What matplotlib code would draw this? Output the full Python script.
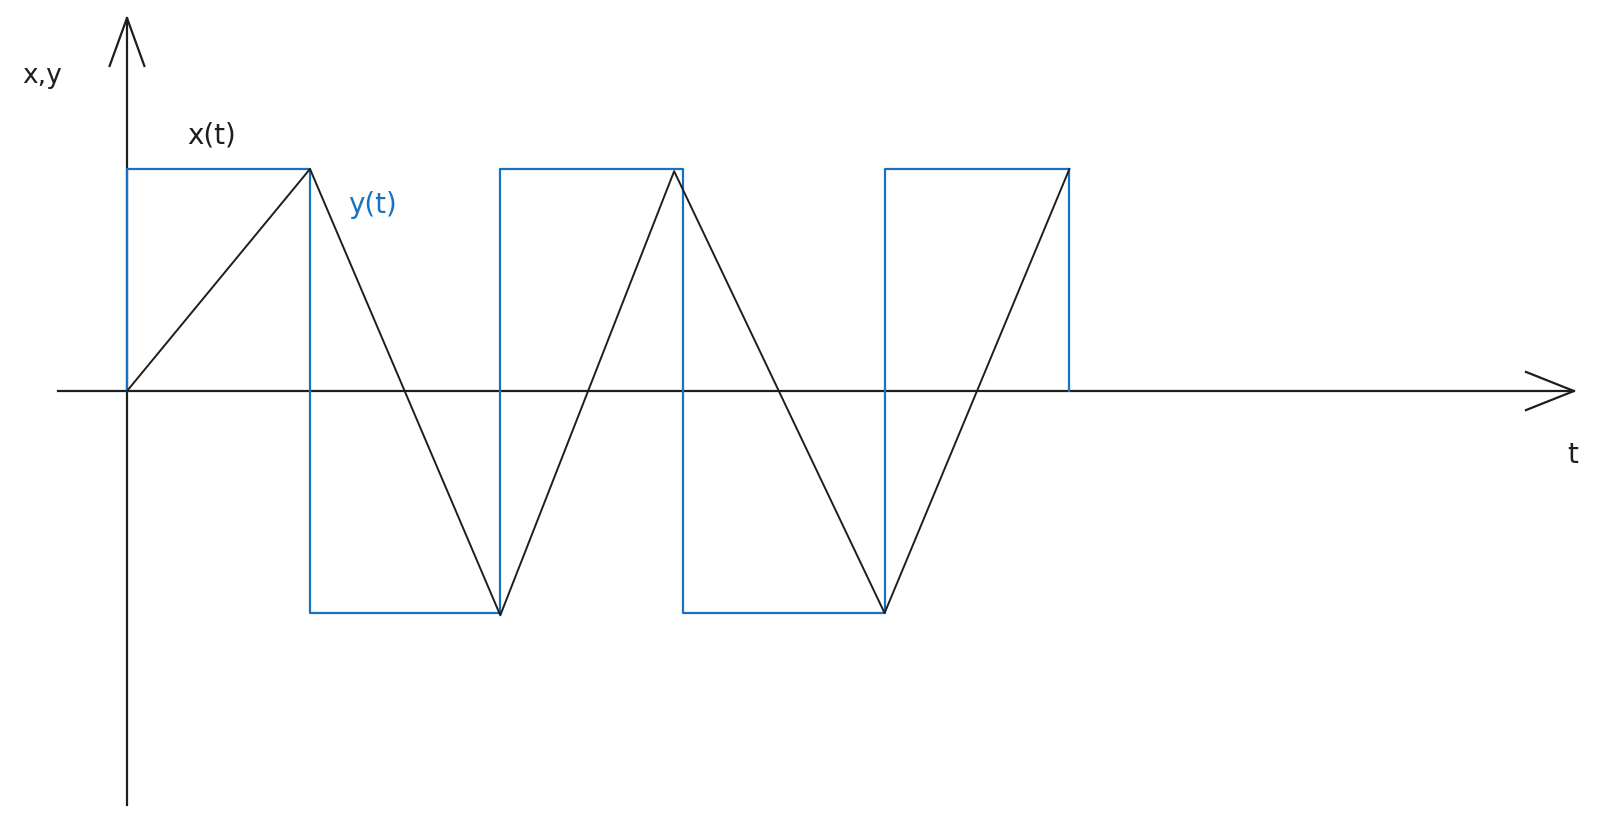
import numpy as np
import matplotlib.pyplot as plt

# x(t): triangle wave corners
x_t = [0.0, 1.0, 2.04, 2.99, 4.14, 5.15]
x_val = [0.0, 1.0, -1.01, 0.99, -1.0, 1.0]

# y(t): square wave edges and levels
y_edges = [0.0, 1.0, 2.04, 3.04, 4.14, 5.15]
y_levels = [1.0, -1.0, 1.0, -1.0, 1.0]

# axis extents (data units)
t_axis = [-0.377, 7.907]
v_axis = [-1.865, 1.68]

BLACK = "#1e1e1e"
BLUE = "#1971c2"

fig = plt.figure(figsize=(16.03, 8.26), dpi=100)
ax = fig.add_axes([0, 0, 1, 1])
ax.set_xlim(-0.694, 8.066)
ax.set_ylim(-1.959, 1.761)
ax.axis("off")

# axes with open arrow heads
ax.plot(t_axis, [0, 0], color=BLACK, lw=1.6)
ax.plot([0, 0], v_axis, color=BLACK, lw=1.6)
hx, hy = 0.262, 0.086
ax.plot([t_axis[1] - hx, t_axis[1], t_axis[1] - hx], [hy, 0, -hy], color=BLACK, lw=1.6)
vx, vy = 0.095, 0.216
ax.plot([-vx, 0, vx], [v_axis[1] - vy, v_axis[1], v_axis[1] - vy], color=BLACK, lw=1.6)

# square wave y(t)
sq_t = [y_edges[0]]
sq_v = [0.0]
for i, lev in enumerate(y_levels):
    sq_t += [y_edges[i], y_edges[i + 1]]
    sq_v += [lev, lev]
sq_t.append(y_edges[-1])
sq_v.append(0.0)
ax.plot(sq_t, sq_v, color=BLUE, lw=1.6)

# triangle wave x(t)
ax.plot(x_t, x_val, color=BLACK, lw=1.4)

# labels
ax.text(-0.464, 1.419, "x,y", fontsize=19, color=BLACK, ha="center", va="center")
ax.text(0.464, 1.149, "x(t)", fontsize=20, color=BLACK, ha="center", va="center")
ax.text(1.344, 0.838, "y(t)", fontsize=20, color=BLUE, ha="center", va="center")
ax.text(7.90, -0.288, "t", fontsize=20, color=BLACK, ha="center", va="center")

fig.savefig("out.png", dpi=100, facecolor="white")
